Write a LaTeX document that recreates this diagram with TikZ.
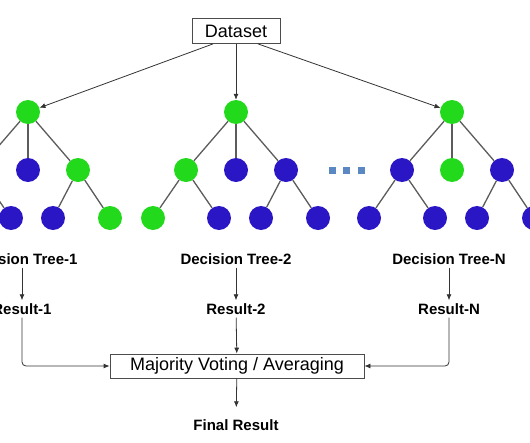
\documentclass[tikz,border=0pt]{standalone}
\usepackage{fontspec}
\setmainfont{Liberation Sans}
\usetikzlibrary{arrows.meta,positioning}
\definecolor{TreeGreen}{HTML}{22D91C}
\definecolor{TreeBlue}{HTML}{2A16C4}
\definecolor{EdgeGray}{HTML}{5C5C5C}
\definecolor{DotBlue}{HTML}{5B87C2}

\begin{document}
\begin{tikzpicture}[
    x=1pt,y=-1pt,
    vertex/.style={circle,minimum size=24pt,inner sep=0pt},
    edge/.style={draw=EdgeGray,line width=1.3pt},
    stepbox/.style={
      draw=black!70,
      line width=0.8pt,
      minimum height=25pt,
      font=\fontsize{18}{20}\selectfont
    },
    btext/.style={font=\bfseries\fontsize{15}{18}\selectfont,inner sep=3pt},
    link/.style={-{Latex[length=6pt,width=5pt]},line width=0.8pt,black!80}
  ]
    \clip (0,0) rectangle (530,442);
    \node[stepbox,minimum width=88pt] (data) at (236,31) {Dataset};
    % the three trees: root, middle row, bottom row
    \foreach \t/\x/\cr/\ca/\cb/\cc/\caa/\cab/\cca/\ccb in {
        1/28/TreeGreen/TreeBlue/TreeBlue/TreeGreen/TreeBlue/TreeBlue/TreeBlue/TreeGreen,
        2/236/TreeGreen/TreeGreen/TreeBlue/TreeBlue/TreeGreen/TreeBlue/TreeBlue/TreeBlue,
        N/452/TreeGreen/TreeBlue/TreeGreen/TreeBlue/TreeBlue/TreeBlue/TreeBlue/TreeBlue} {
      \node[vertex,fill=\cr] (t\t-r) at (\x,112) {};
      \node[vertex,fill=\ca] (t\t-a) at (\x-50,170) {};
      \node[vertex,fill=\cb] (t\t-b) at (\x,170) {};
      \node[vertex,fill=\cc] (t\t-c) at (\x+50,170) {};
      \node[vertex,fill=\caa] (t\t-aa) at (\x-83,218) {};
      \node[vertex,fill=\cab] (t\t-ab) at (\x-17,218) {};
      \node[vertex,fill=\cca] (t\t-ca) at (\x+25,218) {};
      \node[vertex,fill=\ccb] (t\t-cb) at (\x+82,218) {};
      \draw[edge] (t\t-r) -- (t\t-a);
      \draw[edge] (t\t-r) -- (t\t-b);
      \draw[edge] (t\t-r) -- (t\t-c);
      \draw[edge] (t\t-a) -- (t\t-aa);
      \draw[edge] (t\t-a) -- (t\t-ab);
      \draw[edge] (t\t-c) -- (t\t-ca);
      \draw[edge] (t\t-c) -- (t\t-cb);
    }
    \foreach \i/\dx in {1/332,2/346,3/361}
      \node[fill=DotBlue,minimum size=7pt,inner sep=0pt] (dot\i) at (\dx,170) {};
    \draw[link] ([xshift=-23pt]data.south) -- (t1-r);
    \draw[link] (data) -- (t2-r);
    \draw[link] ([xshift=22pt]data.south) -- (tN-r);

    \node[btext] (tree1) at (22,259) {Decision Tree-1};
    \node[btext] (tree2) at (236,259) {Decision Tree-2};
    \node[btext] (treeN) at (449,259) {Decision Tree-N};
    \node[btext] (res1) at (22,309) {Result-1};
    \node[btext] (res2) at (236,309) {Result-2};
    \node[btext] (resN) at (449,309) {Result-N};
    \node[stepbox,minimum width=254pt,minimum height=24pt] (vote) at (237,366)
      {Majority Voting / Averaging};
    \node[btext] (final) at (236,425) {Final Result};
    \draw[link] (tree1) -- (res1);
    \draw[link] (tree2) -- (res2);
    \draw[link] (treeN) -- (resN);
    \draw[link,rounded corners=4pt] (res1) |- (vote);
    \draw[link] (res2) -- (vote);
    \draw[link,rounded corners=4pt] (resN) |- (vote);
    \draw[link,shorten >=9pt] (vote) -- (final);
  \end{tikzpicture}
\end{document}
